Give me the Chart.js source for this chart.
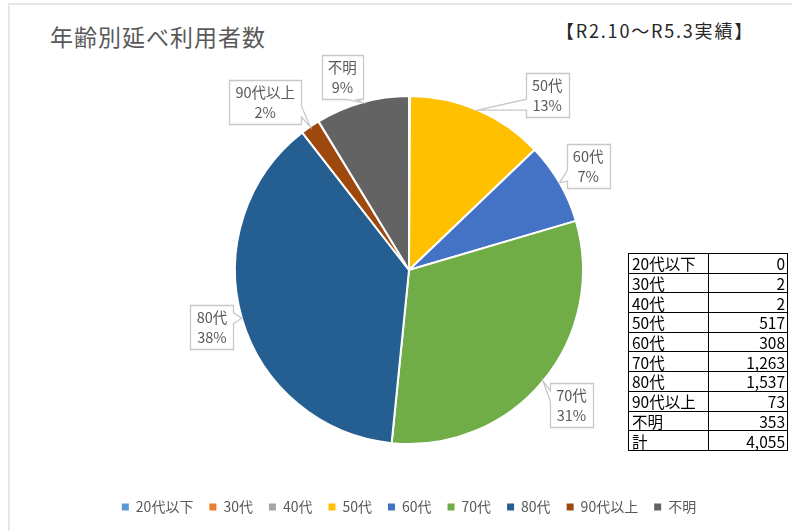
<!DOCTYPE html>
<html lang="ja">
<head>
<meta charset="utf-8">
<script src="https://cdn.jsdelivr.net/npm/chart.js@4.4.1/dist/chart.umd.min.js"></script>
<style>
  html, body { margin: 0; padding: 0; background: #fff; }
  #wrap { position: relative; width: 792px; height: 531px; overflow: hidden; font-family: "Noto Sans CJK JP", sans-serif; }
  #frame { position: absolute; left: 8px; top: 3px; right: -10px; bottom: -10px; border-top: 2px solid #e6e6e6; border-left: 2px solid #e6e6e6; }
  #title { position: absolute; left: 50px; top: 20px; font-size: 23px; letter-spacing: 1px; line-height: 32px; color: #595959; }
  #period { position: absolute; left: 556px; top: 17px; font-size: 18px; letter-spacing: 1.8px; line-height: 26px; color: #262626; }
  #tbl { position: absolute; left: 628px; top: 253px; border-collapse: collapse; font-size: 15.5px; color: #000; }
  #tbl td { border: 1px solid #000; height: 18.7px; line-height: 18px; padding: 0 2px 0 3px; }
  #tbl td.v { text-align: right; }
  canvas { position: absolute; left: 0; top: 0; }
</style>
</head>
<body>
<div id="wrap">
  <div id="frame"></div>
  <div id="title">年齢別延べ利用者数</div>
  <div id="period">【R2.10～R5.3実績】</div>
  <canvas id="pieChart" width="792" height="531"></canvas>
  <table id="tbl"></table>
</div>
<script>
// 年齢別延べ利用者数 (R2.10〜R5.3)
const categories = ['20代以下', '30代', '40代', '50代', '60代', '70代', '80代', '90代以上', '不明'];
const users = [0, 2, 2, 517, 308, 1263, 1537, 73, 353];
const totalLabel = '計';
const sliceColors = ['#5B9BD5', '#ED7D31', '#A5A5A5', '#FFC000', '#4472C4', '#70AD47', '#255E91', '#9E480E', '#636363'];

// callout box placement: [distance from centre, angle nudge in degrees]
const calloutPlace = [
  [0, 0], [0, 0], [0, 0],
  [223, 15],   // 50代
  [207, 0],    // 60代
  [211, 0],    // 70代
  [205, 0],    // 80代
  [221, -6],   // 90代以上
  [204, -3.4]  // 不明
];

// table on the right
const total = users.reduce((a, b) => a + b, 0);
const tbl = document.getElementById('tbl');
const rows = categories.map((c, i) => [c, users[i]]).concat([[totalLabel, total]]);
tbl.innerHTML = rows.map(r =>
  '<tr><td style="width:74px">' + r[0] + '</td><td class="v" style="width:73px">' + r[1].toLocaleString('en-US') + '</td></tr>'
).join('');

// whole percentages that add up to 100 (largest remainder, like Excel)
function roundedPercents(values) {
  const sum = values.reduce((a, b) => a + b, 0);
  const raw = values.map(v => v / sum * 100);
  const out = raw.map(Math.floor);
  let left = 100 - out.reduce((a, b) => a + b, 0);
  const order = raw.map((r, i) => [r - Math.floor(r), i]).sort((a, b) => b[0] - a[0]);
  for (let k = 0; k < left; k++) out[order[k][1]] += 1;
  return out;
}

function calloutPath(ctx, L, T, w, h, tx, ty) {
  const R = L + w, B = T + h;
  const cx = L + w / 2, cy = T + h / 2;
  const dx = (tx - cx) / w, dy = (ty - cy) / h;
  let side = null;
  if (tx < L || tx > R || ty < T || ty > B) {
    if (Math.abs(dx) > Math.abs(dy)) side = dx < 0 ? 'left' : 'right';
    else side = dy < 0 ? 'top' : 'bottom';
  }
  // wedge base positions (like office callouts)
  const ax1 = tx < cx ? L + w * 2 / 12 : L + w * 7 / 12;
  const ax2 = tx < cx ? L + w * 5 / 12 : L + w * 10 / 12;
  const by1 = ty < cy ? T + h * 2 / 12 : T + h * 7 / 12;
  const by2 = ty < cy ? T + h * 5 / 12 : T + h * 10 / 12;
  ctx.beginPath();
  ctx.moveTo(L, T);
  if (side === 'top') { ctx.lineTo(ax1, T); ctx.lineTo(tx, ty); ctx.lineTo(ax2, T); }
  ctx.lineTo(R, T);
  if (side === 'right') { ctx.lineTo(R, by1); ctx.lineTo(tx, ty); ctx.lineTo(R, by2); }
  ctx.lineTo(R, B);
  if (side === 'bottom') { ctx.lineTo(ax2, B); ctx.lineTo(tx, ty); ctx.lineTo(ax1, B); }
  ctx.lineTo(L, B);
  if (side === 'left') { ctx.lineTo(L, by2); ctx.lineTo(tx, ty); ctx.lineTo(L, by1); }
  ctx.closePath();
}

const calloutPlugin = {
  id: 'callouts',
  afterDatasetsDraw(chart) {
    const ctx = chart.ctx;
    const meta = chart.getDatasetMeta(0);
    const pcts = roundedPercents(chart.data.datasets[0].data);
    ctx.save();
    ctx.font = '14.5px "Noto Sans CJK JP"';
    meta.data.forEach((arc, i) => {
      const pct = pcts[i];
      if (!pct) return;
      const p = arc.getProps(['x', 'y', 'startAngle', 'endAngle', 'outerRadius'], true);
      const mid = (p.startAngle + p.endAngle) / 2;
      const tipX = p.x + Math.cos(mid) * p.outerRadius;
      const tipY = p.y + Math.sin(mid) * p.outerRadius;
      const a = mid + calloutPlace[i][1] * Math.PI / 180;
      const cx = p.x + Math.cos(a) * calloutPlace[i][0];
      const cy = p.y + Math.sin(a) * calloutPlace[i][0];
      const lines = [chart.data.labels[i], pct + '%'];
      const tw = Math.max(...lines.map(t => ctx.measureText(t).width));
      const w = Math.round(tw + 12), h = 44;
      const L = Math.round(cx - w / 2) + 0.5, T = Math.round(cy - h / 2) + 0.5;
      calloutPath(ctx, L, T, w, h, tipX, tipY);
      ctx.fillStyle = '#ffffff';
      ctx.fill();
      ctx.lineWidth = 1.3;
      ctx.strokeStyle = '#c8c8c8';
      ctx.stroke();
      ctx.fillStyle = '#595959';
      ctx.textAlign = 'center';
      ctx.textBaseline = 'middle';
      ctx.fillText(lines[0], cx, cy - 9.5);
      ctx.fillText(lines[1], cx, cy + 10.5);
    });
    ctx.restore();
  }
};

new Chart(document.getElementById('pieChart'), {
  type: 'pie',
  data: {
    labels: categories,
    datasets: [{
      data: users,
      backgroundColor: sliceColors,
      borderColor: '#ffffff',
      borderWidth: 2,
      radius: 174
    }]
  },
  options: {
    responsive: false,
    animation: false,
    layout: { padding: { left: 26, right: 0, top: 56, bottom: 7 } },
    plugins: {
      title: { display: false },
      tooltip: { enabled: false },
      legend: {
        position: 'bottom',
        labels: {
          color: '#595959',
          font: { size: 14, family: '"Noto Sans CJK JP", sans-serif' },
          boxWidth: 7,
          boxHeight: 7,
          padding: 16,
          generateLabels(chart) {
            const items = Chart.overrides.pie.plugins.legend.labels.generateLabels(chart);
            return items.map(it => Object.assign(it, { strokeStyle: it.fillStyle, lineWidth: 0 }));
          }
        }
      }
    }
  },
  plugins: [calloutPlugin]
});
</script>
</body>
</html>
